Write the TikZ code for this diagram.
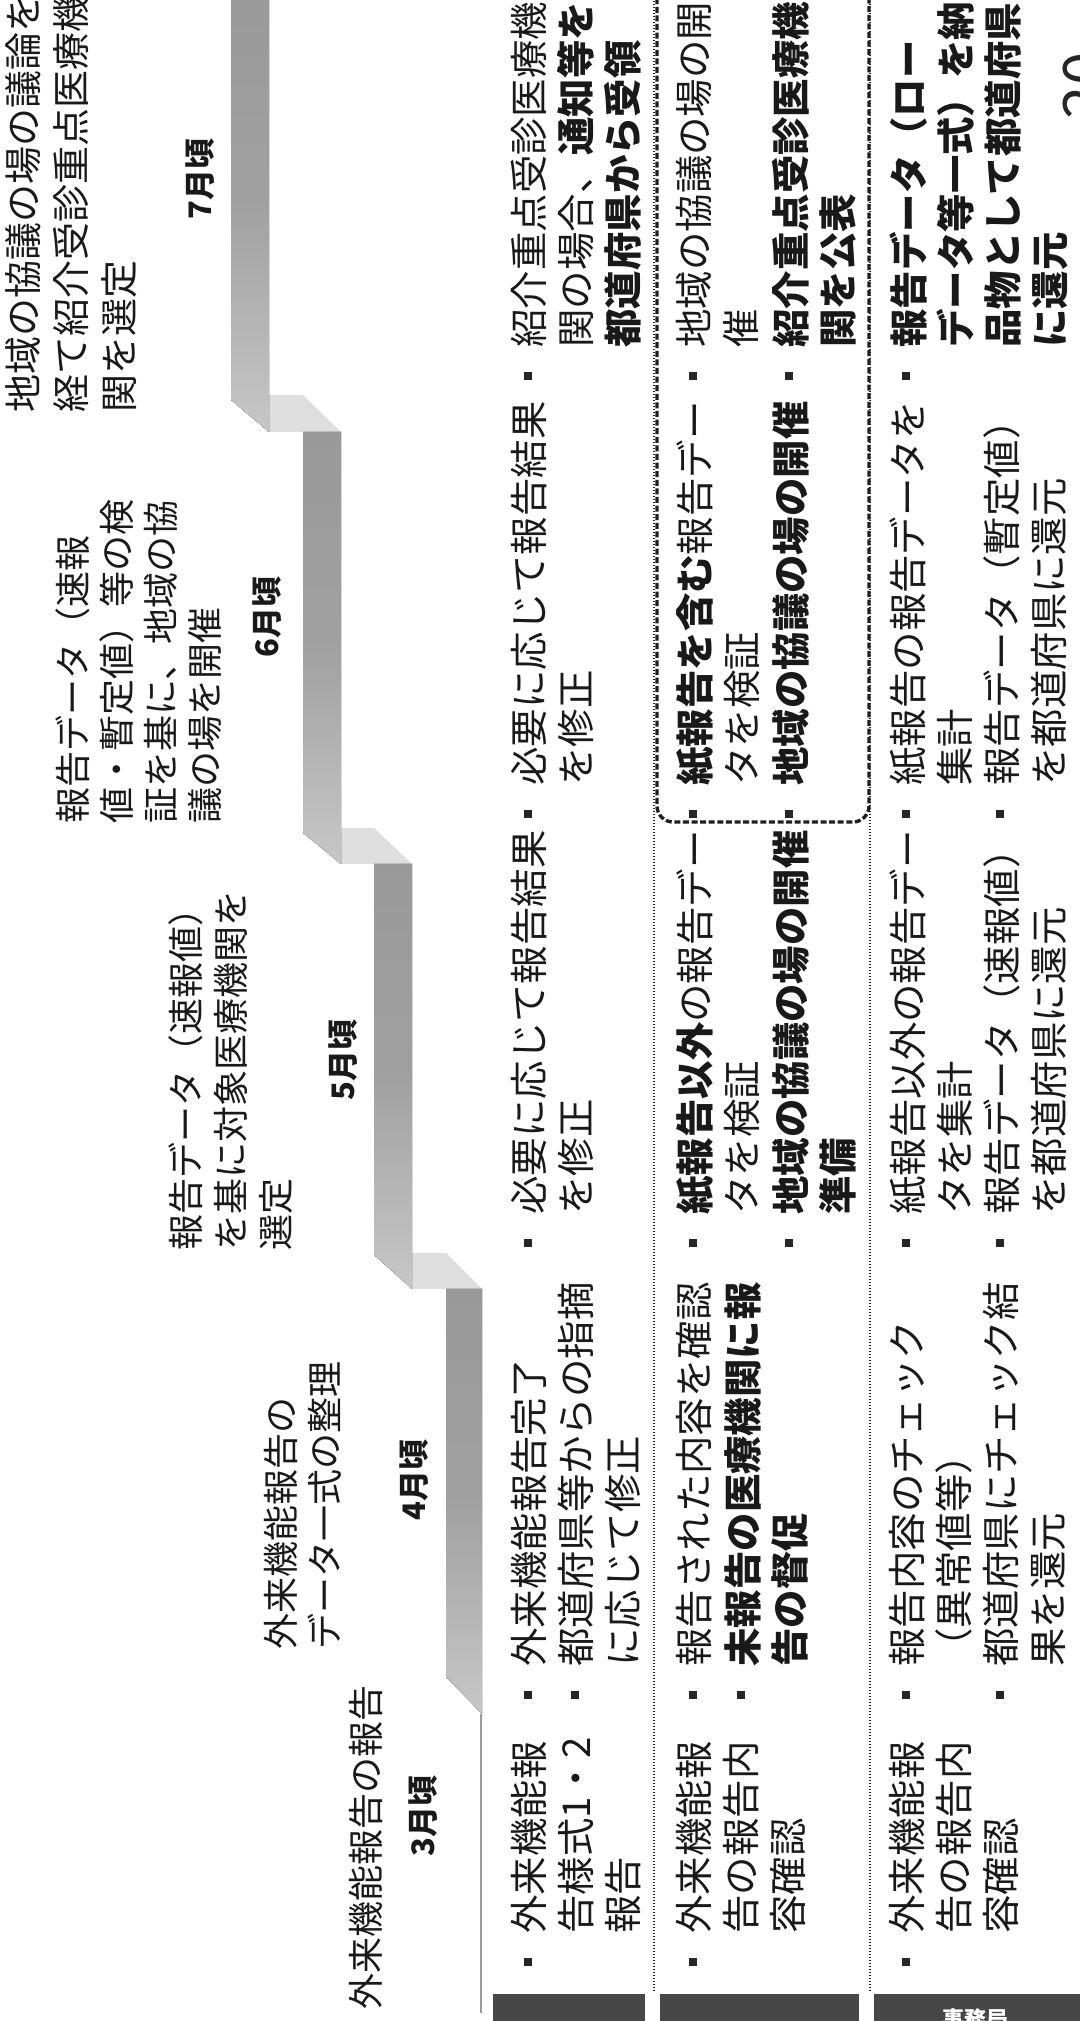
\documentclass[tikz,border=0pt]{standalone}
\usepackage{fontspec}
\setmainfont{Noto Sans CJK JP}
\begin{document}
\begin{tikzpicture}[x=0.5pt,y=0.5pt,
  body/.style={anchor=north west, inner sep=0pt, align=left, font=\fontsize{19.2pt}{23.5pt}\selectfont, text=black!90},
  bodyb/.style={body, font=\fontsize{19.2pt}{23.5pt}\selectfont\bfseries},
  head/.style={anchor=north west, inner sep=0pt, align=left, font=\fontsize{18pt}{22.5pt}\selectfont, text=black!90},
  month/.style={inner sep=0pt, font=\fontsize{15.5pt}{18pt}\selectfont\bfseries, text=black!90},
  bul/.style={fill=black!85, inner sep=0pt, minimum size=4pt},
  bar/.style={top color=black!40, bottom color=black!22, middle color=black!37},
  face/.style={fill=black!13},
  rowsep/.style={line width=0.8pt, dash pattern=on 0.7pt off 0.8pt, black!85},
  hilite/.style={line width=1.7pt, dash pattern=on 3pt off 1.3pt, black!88, rounded corners=8pt},
  darkbox/.style={fill=black!72}
]
\useasboundingbox (0,0) rectangle (1080,2021);
\fill[white] (0,0) rectangle (1080,2021);
\begin{scope}[rotate=90, transform shape]
% ---- staircase ribbon ----
\fill[face] (732,-410) -- (768,-410) -- (768,-446) -- (732,-482) -- cycle;
\fill[face] (1157,-339) -- (1193,-339) -- (1193,-374) -- (1157,-412) -- cycle;
\fill[face] (1589,-267) -- (1626,-267) -- (1626,-303) -- (1589,-341) -- cycle;
\fill[bar] (344,-446) -- (732,-446) -- (732,-482) -- (307,-482) -- cycle;
\fill[bar] (766,-374) -- (1157,-374) -- (1157,-412) -- (732,-412) -- cycle;
\fill[bar] (1188,-303) -- (1589,-303) -- (1589,-341) -- (1157,-341) -- cycle;
\fill[bar] (1621,-231) -- (2040,-231) -- (2040,-269) -- (1589,-269) -- cycle;
\coordinate (l3a) at (307,-481);
\coordinate (l3b) at (8,-481);
\draw[black!40, line width=1.2pt] (l3a) -- (l3b);
% ---- table frame ----
\coordinate (s1a) at (30,-654); \coordinate (s1b) at (2040,-654);
\coordinate (s2a) at (30,-870); \coordinate (s2b) at (2040,-870);
\draw[rowsep] (s1a) -- (s1b);
\draw[rowsep] (s2a) -- (s2b);
\draw[hilite] (2040,-657) -- (1199,-657) -- (1199,-869) -- (2040,-869);
\fill[darkbox] (-10,-493) rectangle (27,-645);
\fill[darkbox] (-10,-660) rectangle (27,-859);
\fill[darkbox] (-10,-874) rectangle (27,-1090);
\node[rotate=-90, inner sep=0pt, text=white, font=\fontsize{11pt}{12pt}\selectfont\bfseries] (boxlab) at (2,-975) {事務局};
% ---- headings ----
\node[head, font=\fontsize{19pt}{24pt}\selectfont] (h7) at (1608,-5) {地域の協議の場の議論を\\経て紹介受診重点医療機\\関を選定};
\node[head, font=\fontsize{18pt}{22pt}\selectfont] (h6) at (1197,-55) {報告データ（速報\\値・暫定値）等の検\\証を基に、地域の協\\議の場を開催};
\node[head] (h5) at (770,-168) {報告データ（速報値）\\を基に対象医療機関を\\選定};
\node[head, font=\fontsize{18pt}{22pt}\selectfont] (h4) at (371,-264) {外来機能報告の\\データ一式の整理};
\node[head] (h3) at (11,-349) {外来機能報告の報告};
\node[month] (m7) at (1842,-200) {7月頃};
\node[month] (m6) at (1404,-267) {6月頃};
\node[month] (m5) at (961,-343) {5月頃};
\node[month] (m4) at (541,-414) {4月頃};
\node[month] (m3) at (205,-423) {3月頃};
% ---- row 1 ----
\node[bul] (b11) at (59,-528) {};
\node[body] (r1c1) at (87,-511) {外来機能報\\告様式1・2\\報告};
\node[bul] (b12a) at (326,-528) {};
\node[body] (r1c2a) at (354,-511) {外来機能報告完了};
\node[bul] (b12b) at (326,-575) {};
\node[body] (r1c2b) at (354,-558) {都道府県等からの指摘\\に応じて修正};
\node[bul] (b13) at (778,-528) {};
\node[body] (r1c3) at (806,-511) {必要に応じて報告結果\\を修正};
\node[bul] (b14) at (1207,-528) {};
\node[body] (r1c4) at (1235,-511) {必要に応じて報告結果\\を修正};
\node[bul] (b15) at (1645,-528) {};
\node[body] (r1c5) at (1673,-511) {紹介重点受診医療機\\関の場合、\textbf{通知等を}\\\textbf{都道府県から受領}};
% ---- row 2 ----
\node[bul] (b21) at (59,-693) {};
\node[body] (r2c1) at (87,-676) {外来機能報\\告の報告内\\容確認};
\node[bul] (b22a) at (326,-693) {};
\node[body] (r2c2a) at (354,-676) {報告された内容を確認};
\node[bul] (b22b) at (326,-741) {};
\node[bodyb] (r2c2b) at (354,-724) {未報告の医療機関に報\\告の督促};
\node[bul] (b23a) at (778,-693) {};
\node[body] (r2c3a) at (806,-676) {\textbf{紙報告以外}の報告デー\\タを検証};
\node[bul] (b23b) at (778,-789) {};
\node[bodyb] (r2c3b) at (806,-772) {地域の協議の場の開催\\準備};
\node[bul] (b24a) at (1207,-693) {};
\node[body] (r2c4a) at (1235,-676) {\textbf{紙報告を含む}報告デー\\タを検証};
\node[bul] (b24b) at (1207,-789) {};
\node[bodyb] (r2c4b) at (1235,-772) {地域の協議の場の開催};
\node[bul] (b25a) at (1645,-693) {};
\node[body] (r2c5a) at (1673,-676) {地域の協議の場の開\\催};
\node[bul] (b25b) at (1645,-789) {};
\node[bodyb] (r2c5b) at (1673,-772) {紹介重点受診医療機\\関を公表};
% ---- row 3 ----
\node[bul] (b31) at (59,-906) {};
\node[body] (r3c1) at (87,-889) {外来機能報\\告の報告内\\容確認};
\node[bul] (b32a) at (326,-906) {};
\node[body] (r3c2a) at (354,-889) {報告内容のチェック\\（異常値等）};
\node[bul] (b32b) at (326,-1000) {};
\node[body] (r3c2b) at (354,-983) {都道府県にチェック結\\果を還元};
\node[bul] (b33a) at (778,-906) {};
\node[body] (r3c3a) at (806,-889) {紙報告以外の報告デー\\タを集計};
\node[bul] (b33b) at (778,-1000) {};
\node[body] (r3c3b) at (806,-983) {報告データ（速報値）\\を都道府県に還元};
\node[bul] (b34a) at (1207,-906) {};
\node[body] (r3c4a) at (1235,-889) {紙報告の報告データを\\集計};
\node[bul] (b34b) at (1207,-1000) {};
\node[body] (r3c4b) at (1235,-983) {報告データ（暫定値）\\を都道府県に還元};
\node[bul] (b35) at (1645,-906) {};
\node[bodyb] (r3c5) at (1673,-889) {報告データ（ロー\\データ等一式）を納\\品物として都道府県\\に還元};
% ---- page number ----
\node[anchor=north, inner sep=0pt, font=\fontsize{30pt}{30pt}\selectfont, text=black!85] (pg) at (1935,-1063) {20};
\end{scope}
\end{tikzpicture}
\end{document}
